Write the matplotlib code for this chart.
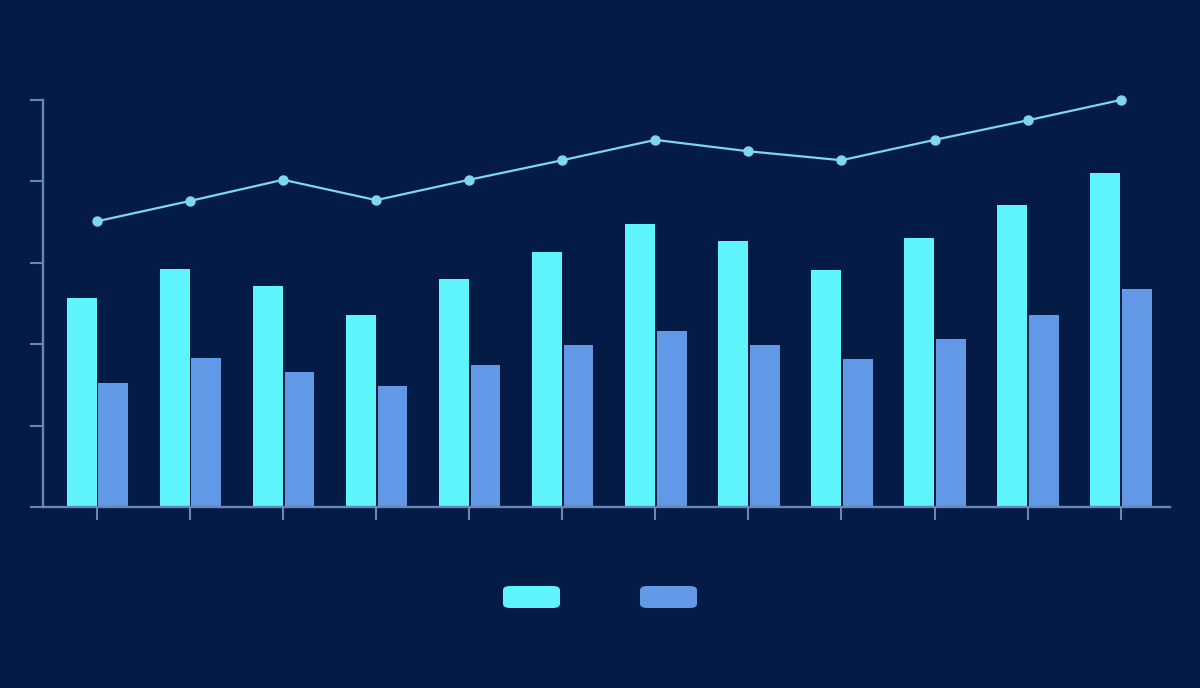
import matplotlib.pyplot as plt
import numpy as np
from matplotlib.patches import FancyBboxPatch

# values (no labels in the original)
cyan_vals = [2.57, 2.92, 2.71, 2.36, 2.80, 3.13, 3.48, 3.27, 2.91, 3.30, 3.71, 4.10]
blue_vals = [1.52, 1.83, 1.66, 1.49, 1.74, 1.99, 2.16, 1.99, 1.82, 2.06, 2.36, 2.68]
line_vals = [3.51, 3.76, 4.02, 3.77, 4.02, 4.26, 4.51, 4.37, 4.26, 4.51, 4.75, 5.00]


def _main():
    bg = "#031b45"
    c_cyan = "#5ef4fc"
    c_blue = "#6199e6"
    c_line = "#7fd6f2"
    c_axis = "#6a86b6"

    fig = plt.figure(figsize=(12, 6.88), dpi=100, facecolor=bg)
    ax = fig.add_axes([43 / 1200, 181 / 688, 1127 / 1200, 407 / 688])
    ax.set_facecolor(bg)

    x = np.arange(len(cyan_vals))
    w = 0.32
    ax.bar(x - w / 2 - 0.005, cyan_vals, width=w, color=c_cyan, zorder=2)
    ax.bar(x + w / 2 + 0.015, blue_vals, width=w, color=c_blue, zorder=2)
    ax.plot(x, line_vals, color=c_line, linewidth=1.6, marker="o",
            markersize=6.5, clip_on=False, zorder=3)

    ax.set_xlim(-0.58, 11.53)
    ax.set_ylim(0, 5)
    ax.set_xticks(x)
    ax.set_yticks(np.arange(0, 6))
    ax.set_xticklabels([])
    ax.set_yticklabels([])
    ax.tick_params(colors=c_axis, length=9.5, width=1.5)

    for side in ["top", "right"]:
        ax.spines[side].set_visible(False)
    for side in ["left", "bottom"]:
        ax.spines[side].set_color(c_axis)
        ax.spines[side].set_linewidth(1.7)

    # legend swatches, no text
    for x0, col in [(503, c_cyan), (640, c_blue)]:
        fig.patches.append(FancyBboxPatch(
            (x0 / 1200, (688 - 608) / 688), 57 / 1200, 22 / 688,
            boxstyle="round,pad=0,rounding_size=0.006",
            transform=fig.transFigure, facecolor=col, edgecolor="none"))

    fig.savefig("out.png", facecolor=bg)


if __name__ == "__main__":
    _main()
